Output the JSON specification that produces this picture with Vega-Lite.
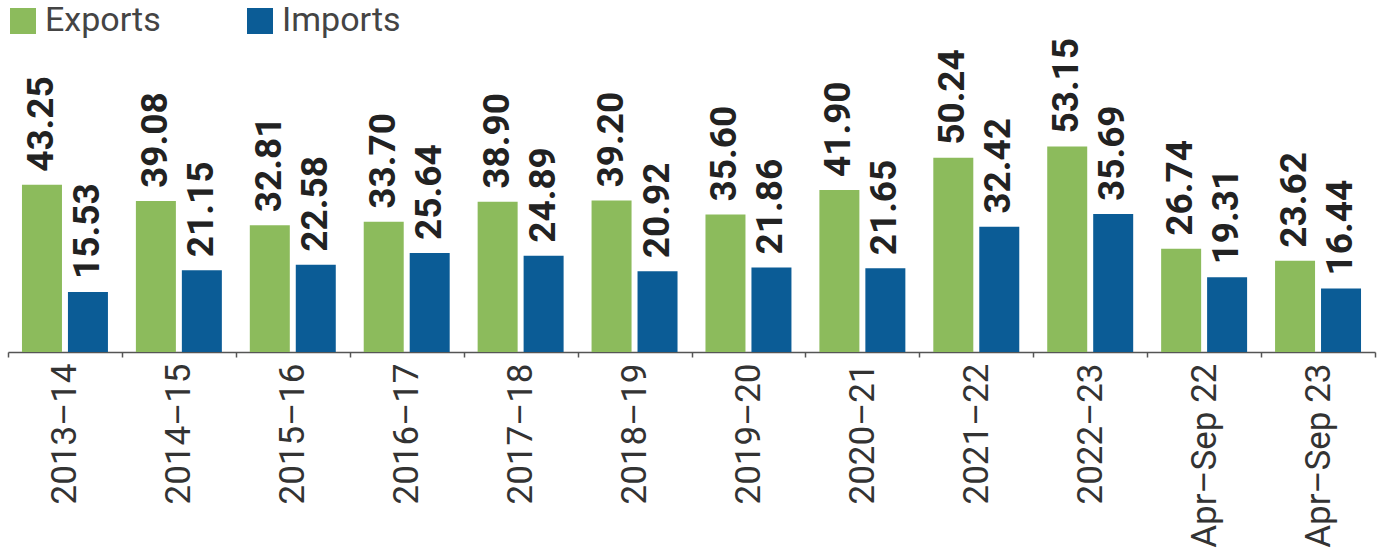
{
  "$schema": "https://vega.github.io/schema/vega-lite/v6.json",
  "autosize": "none",
  "width": 1367,
  "height": 292,
  "padding": {"left": 8, "top": 60, "right": 17, "bottom": 199},
  "background": "white",
  "config": {
    "view": {"stroke": null},
    "font": "Roboto"
  },
  "data": {
    "values": [
      {"year": "2013–14", "type": "Exports", "value": 43.25},
      {"year": "2013–14", "type": "Imports", "value": 15.53},
      {"year": "2014–15", "type": "Exports", "value": 39.08},
      {"year": "2014–15", "type": "Imports", "value": 21.15},
      {"year": "2015–16", "type": "Exports", "value": 32.81},
      {"year": "2015–16", "type": "Imports", "value": 22.58},
      {"year": "2016–17", "type": "Exports", "value": 33.70},
      {"year": "2016–17", "type": "Imports", "value": 25.64},
      {"year": "2017–18", "type": "Exports", "value": 38.90},
      {"year": "2017–18", "type": "Imports", "value": 24.89},
      {"year": "2018–19", "type": "Exports", "value": 39.20},
      {"year": "2018–19", "type": "Imports", "value": 20.92},
      {"year": "2019–20", "type": "Exports", "value": 35.60},
      {"year": "2019–20", "type": "Imports", "value": 21.86},
      {"year": "2020–21", "type": "Exports", "value": 41.90},
      {"year": "2020–21", "type": "Imports", "value": 21.65},
      {"year": "2021–22", "type": "Exports", "value": 50.24},
      {"year": "2021–22", "type": "Imports", "value": 32.42},
      {"year": "2022–23", "type": "Exports", "value": 53.15},
      {"year": "2022–23", "type": "Imports", "value": 35.69},
      {"year": "Apr–Sep 22", "type": "Exports", "value": 26.74},
      {"year": "Apr–Sep 22", "type": "Imports", "value": 19.31},
      {"year": "Apr–Sep 23", "type": "Exports", "value": 23.62},
      {"year": "Apr–Sep 23", "type": "Imports", "value": 16.44}
    ]
  },
  "encoding": {
    "x": {
      "field": "year",
      "type": "nominal",
      "sort": null,
      "scale": {"paddingInner": 0, "paddingOuter": 0},
      "axis": {
        "title": null,
        "labelAngle": -90,
        "labelFont": "Roboto",
        "labelFontSize": 35,
        "labelColor": "#333333",
        "labelPadding": 6,
        "tickBand": "extent",
        "tickSize": 5,
        "tickColor": "#555555",
        "tickWidth": 1.5,
        "domainColor": "#555555",
        "domainWidth": 1.5,
        "labelLimit": 300
      }
    },
    "xOffset": {
      "field": "type",
      "type": "nominal",
      "scale": {"paddingInner": 0.13, "paddingOuter": 0.304}
    },
    "y": {
      "field": "value",
      "type": "quantitative",
      "scale": {"domain": [0, 75.55]},
      "axis": null
    }
  },
  "layer": [
    {
      "mark": {"type": "bar"},
      "encoding": {
        "color": {
          "field": "type",
          "type": "nominal",
          "scale": {"domain": ["Exports", "Imports"], "range": ["#8cbb5c", "#0b5c96"]},
          "legend": {
            "title": null,
            "orient": "none",
            "legendX": -2,
            "legendY": -56,
            "direction": "horizontal",
            "symbolType": "square",
            "symbolSize": 676,
            "symbolStrokeWidth": 0,
            "labelFont": "Roboto",
            "labelFontSize": 34,
            "labelColor": "#444444",
            "labelOffset": 5,
            "columnPadding": 82,
            "labelLimit": 300
          }
        }
      }
    },
    {
      "mark": {
        "type": "text",
        "angle": -90,
        "align": "left",
        "baseline": "middle",
        "dx": 13,
        "font": "Roboto",
        "fontWeight": "bold",
        "fontSize": 37,
        "color": "#222222"
      },
      "encoding": {
        "text": {"field": "value", "type": "quantitative", "format": ".2f"}
      }
    }
  ]
}
